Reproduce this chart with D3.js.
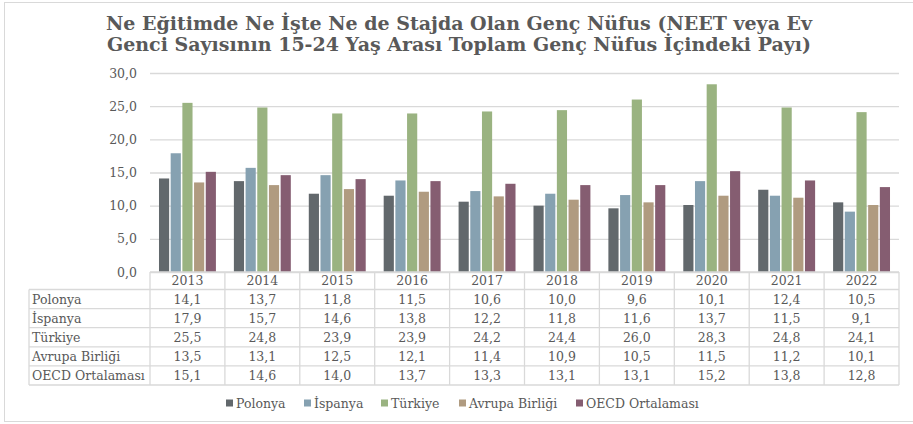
<!DOCTYPE html>
<html>
<head>
<meta charset="utf-8">
<script src="https://cdn.jsdelivr.net/npm/d3@7"></script>
<style>
  body { margin: 0; background: #fff; }
  text { font-family: 'DejaVu Serif', serif; fill: #595959; }
</style>
</head>
<body>
<svg id="chart" width="913" height="424"></svg>
<script>
const years = ['2013', '2014', '2015', '2016', '2017', '2018', '2019', '2020', '2021', '2022'];
const seriesNames = ['Polonya', 'İspanya', 'Türkiye', 'Avrupa Birliği', 'OECD Ortalaması'];
const polonya = [14.1, 13.7, 11.8, 11.5, 10.6, 10.0, 9.6, 10.1, 12.4, 10.5];
const ispanya = [17.9, 15.7, 14.6, 13.8, 12.2, 11.8, 11.6, 13.7, 11.5, 9.1];
const turkiye = [25.5, 24.8, 23.9, 23.9, 24.2, 24.4, 26.0, 28.3, 24.8, 24.1];
const avrupa = [13.5, 13.1, 12.5, 12.1, 11.4, 10.9, 10.5, 11.5, 11.2, 10.1];
const oecd = [15.1, 14.6, 14.0, 13.7, 13.3, 13.1, 13.1, 15.2, 13.8, 12.8];
const yTicks = [0, 5, 10, 15, 20, 25, 30];
const titleLines = [
  'Ne Eğitimde Ne İşte Ne de Stajda Olan Genç Nüfus (NEET veya Ev',
  'Genci Sayısının 15-24 Yaş Arası Toplam Genç Nüfus İçindeki Payı)'
];

const seriesValues = [polonya, ispanya, turkiye, avrupa, oecd];
const colors = ['#62686c', '#86a1b1', '#9ab381', '#b09b80', '#855d71'];

const svg = d3.select('#chart');
const fmt = (v) => v.toFixed(1).replace('.', ',');
const fontSize = '12.5px';

// outer frame
svg.append('rect')
  .attr('x', 4.5).attr('y', 2.5)
  .attr('width', 915).attr('height', 419)
  .attr('fill', 'none')
  .attr('stroke', '#d9d9d9');

// title
svg.append('g')
  .selectAll('text')
  .data(titleLines)
  .join('text')
  .attr('x', 459)
  .attr('y', (d, i) => 30 + i * 21)
  .attr('text-anchor', 'middle')
  .style('font-size', '19px')
  .style('font-weight', 'bold')
  .text((d) => d);

// scales
const plotLeft = 150;
const plotRight = 899;
const x0 = d3.scaleBand().domain(years).range([plotLeft, plotRight]);
const x1 = d3.scaleBand()
  .domain(seriesNames)
  .range([x0.bandwidth() * 0.12, x0.bandwidth() * 0.88])
  .paddingInner(0.13);
const y = d3.scaleLinear().domain([0, 30]).range([272, 73]);

// grid
const yAxis = d3.axisLeft(y)
  .tickValues(yTicks)
  .tickSize(-(plotRight - plotLeft))
  .tickPadding(13)
  .tickFormat(fmt);

const gy = svg.append('g')
  .attr('transform', `translate(${plotLeft},0)`)
  .call(yAxis);
gy.select('.domain').remove();
gy.selectAll('.tick line').attr('stroke', '#d9d9d9').attr('stroke-width', 1.3);
gy.selectAll('.tick text')
  .style('font-size', fontSize)
  .style('font-family', "'DejaVu Serif', serif")
  .attr('fill', '#595959');

// bars
const tidy = [];
years.forEach((yr, i) => {
  seriesNames.forEach((s, j) => {
    tidy.push({ year: yr, series: s, value: seriesValues[j][i], color: colors[j] });
  });
});

svg.append('g')
  .selectAll('rect')
  .data(tidy)
  .join('rect')
  .attr('x', (d) => x0(d.year) + x1(d.series))
  .attr('y', (d) => y(d.value))
  .attr('width', x1.bandwidth())
  .attr('height', (d) => y(0) - y(d.value))
  .attr('fill', (d) => d.color);

// data table
const tableLeft = 29;
const headerTop = 272;
const headerH = 17.5;
const rowH = 19.1;
const lineColor = '#d9d9d9';
const table = svg.append('g');

// header row (years)
table.selectAll('.yr')
  .data(years)
  .join('text')
  .attr('class', 'yr')
  .attr('x', (d) => x0(d) + x0.bandwidth() / 2)
  .attr('y', headerTop + headerH / 2 + 4.5)
  .attr('text-anchor', 'middle')
  .style('font-size', fontSize)
  .text((d) => d);

// row labels
table.selectAll('.rowlabel')
  .data(seriesNames)
  .join('text')
  .attr('class', 'rowlabel')
  .attr('x', tableLeft + 3)
  .attr('y', (d, i) => headerTop + headerH + i * rowH + rowH / 2 + 4.5)
  .style('font-size', fontSize)
  .text((d) => d);

// cell values
table.selectAll('.cell')
  .data(tidy)
  .join('text')
  .attr('class', 'cell')
  .attr('x', (d) => x0(d.year) + x0.bandwidth() / 2)
  .attr('y', (d) => headerTop + headerH + seriesNames.indexOf(d.series) * rowH + rowH / 2 + 4.5)
  .attr('text-anchor', 'middle')
  .style('font-size', fontSize)
  .text((d) => fmt(d.value));

// table lines
const tableBottom = headerTop + headerH + seriesNames.length * rowH;
const hLines = [{ y: headerTop, x1: plotLeft }]
  .concat(d3.range(seriesNames.length + 1).map((i) => ({ y: headerTop + headerH + i * rowH, x1: tableLeft })));
table.selectAll('.hline')
  .data(hLines)
  .join('line')
  .attr('x1', (d) => d.x1)
  .attr('x2', plotRight)
  .attr('y1', (d) => d.y)
  .attr('y2', (d) => d.y)
  .attr('stroke', lineColor)
  .attr('stroke-width', 1.3);

const vLines = years.map((d) => ({ x: x0(d), top: headerTop }))
  .concat([{ x: plotRight, top: headerTop }, { x: tableLeft, top: headerTop + headerH }]);
table.selectAll('.vline')
  .data(vLines)
  .join('line')
  .attr('x1', (d) => d.x)
  .attr('x2', (d) => d.x)
  .attr('y1', (d) => d.top)
  .attr('y2', tableBottom)
  .attr('stroke', lineColor)
  .attr('stroke-width', 1.3);

// legend
const legendX = [226, 304, 381, 459, 576];
const legend = svg.append('g')
  .selectAll('g')
  .data(seriesNames)
  .join('g')
  .attr('transform', (d, i) => `translate(${legendX[i]},403)`);
legend.append('rect')
  .attr('x', 0).attr('y', -3.5)
  .attr('width', 7).attr('height', 7)
  .attr('fill', (d, i) => colors[i]);
legend.append('text')
  .attr('x', 10)
  .attr('y', 4.5)
  .style('font-size', fontSize)
  .text((d) => d);
</script>
</body>
</html>
